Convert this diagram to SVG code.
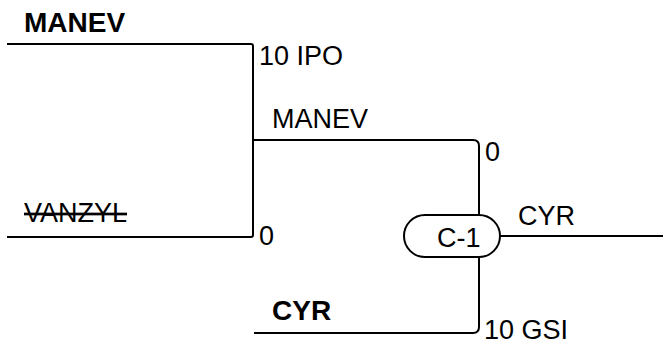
<svg xmlns="http://www.w3.org/2000/svg" width="663" height="344" viewBox="0 0 663 344">
<style>
.ln{fill:none;stroke:#000;stroke-width:2}
.t{font-family:"Liberation Sans",Arial,sans-serif;font-size:27px;fill:#000}
.b{font-weight:bold;font-size:28px}
.s{text-decoration:line-through}
</style>
<rect width="663" height="344" fill="#fff"/>
<g id="connectors">
<path class="ln" d="M7,44 H251 Q253,44 253,46 V235 Q253,237 251,237 H7"/>
<path class="ln" d="M253,140 H473 Q479,140 479,146 V327 Q479,333 473,333 H254"/>
<path class="ln" d="M500,236 H663"/>
</g>
<g id="p-manev-1"><text class="t b" x="24" y="32">MANEV</text><text class="t" x="259" y="65">10 IPO</text></g>
<g id="p-vanzyl"><text class="t s" x="24" y="222">VANZYL</text><text class="t" x="259" y="245">0</text></g>
<g id="w-manev"><text class="t" x="272" y="128">MANEV</text><text class="t" x="485" y="161">0</text></g>
<g id="p-cyr"><text class="t b" x="272" y="320">CYR</text><text class="t" x="484" y="339">10 GSI</text></g>
<g id="c1"><rect x="404" y="215" width="96" height="42" rx="21" ry="21" fill="#fff" stroke="#000" stroke-width="2"/><text class="t" x="437" y="247">C-1</text></g>
<g id="w-cyr"><text class="t" x="518" y="225">CYR</text></g>
</svg>
